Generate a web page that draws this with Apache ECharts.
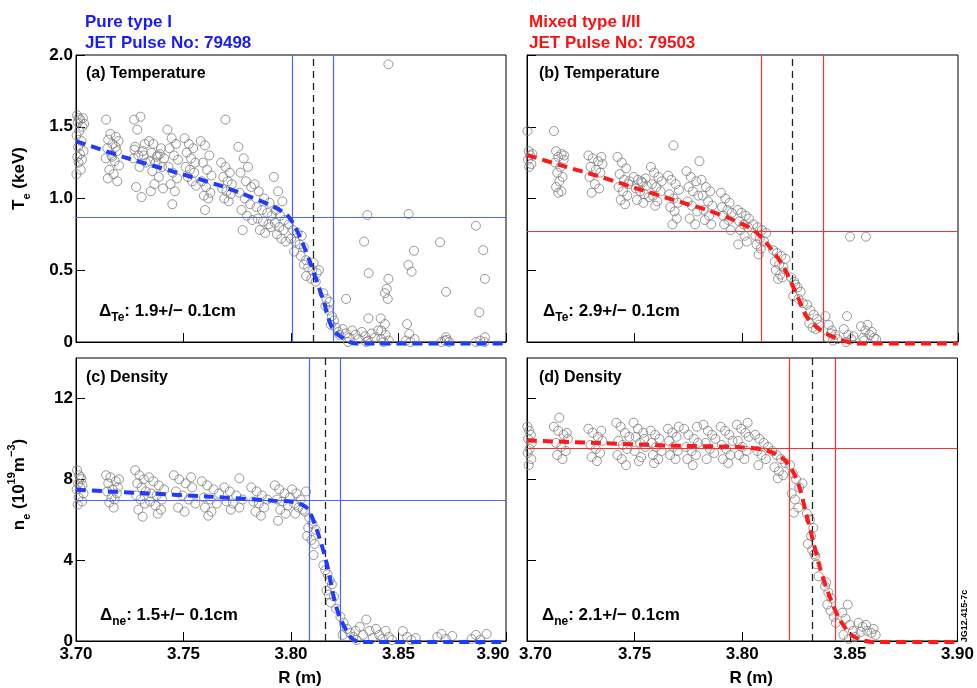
<!DOCTYPE html>
<html><head><meta charset="utf-8">
<script src="https://cdn.jsdelivr.net/npm/echarts@6/dist/echarts.min.js"></script>
<style>html,body{margin:0;padding:0;background:#fff}#c{width:977px;height:688px}</style>
</head><body><div id="c"></div>
<script>
// ---------- DATA ----------
const xTicks = [3.70, 3.75, 3.80, 3.85, 3.90];
const teTicks = [0, 0.5, 1.0, 1.5, 2.0];
const neTicks = [0, 4, 8, 12];

// (a) Te, pulse 79498  [R (m), Te (keV)]
const teA = [
[3.7005,1.58],[3.7012,1.56],[3.7020,1.55],[3.7008,1.53],[3.7030,1.50],[3.7015,1.47],[3.7003,1.44],[3.7025,1.40],[3.7010,1.36],[3.7035,1.33],[3.7018,1.31],[3.7006,1.29],[3.7028,1.27],[3.7012,1.25],[3.7022,1.20],[3.7002,1.17],[3.7032,1.56],[3.7038,1.52],
[3.7140,1.55],[3.7160,1.45],[3.7185,1.43],[3.7150,1.41],[3.7198,1.40],[3.7170,1.38],[3.7145,1.35],[3.7190,1.33],[3.7165,1.30],[3.7138,1.28],[3.7180,1.26],[3.7200,1.23],[3.7155,1.20],[3.7175,1.17],[3.7148,1.14],[3.7192,1.12],[3.7168,1.29],[3.7185,1.36],
[3.7270,1.55],[3.7300,1.57],[3.7285,1.48],[3.7320,1.38],[3.7275,1.36],[3.7310,1.33],[3.7290,1.30],[3.7268,1.28],[3.7325,1.25],[3.7295,1.22],[3.7280,1.08],[3.7305,1.01],[3.7315,1.30],[3.7272,1.34],
[3.7340,1.40],[3.7360,1.38],[3.7395,1.35],[3.7350,1.32],[3.7380,1.30],[3.7410,1.28],[3.7345,1.26],[3.7370,1.25],[3.7400,1.22],[3.7355,1.19],[3.7385,1.15],[3.7365,1.10],[3.7405,1.07],[3.7348,1.05],[3.7375,1.29],[3.7390,1.31],
[3.7425,1.48],[3.7445,1.42],[3.7465,1.38],[3.7435,1.35],[3.7455,1.30],[3.7475,1.27],[3.7430,1.22],[3.7450,1.18],[3.7470,1.14],[3.7440,1.10],[3.7460,1.05],[3.7448,0.96],
[3.7505,1.42],[3.7525,1.38],[3.7545,1.35],[3.7515,1.32],[3.7535,1.28],[3.7555,1.25],[3.7510,1.22],[3.7530,1.20],[3.7550,1.18],[3.7520,1.15],[3.7540,1.12],[3.7558,1.09],
[3.7580,1.40],[3.7600,1.37],[3.7620,1.30],[3.7590,1.25],[3.7610,1.20],[3.7630,1.16],[3.7585,1.12],[3.7605,1.08],[3.7625,1.04],[3.7595,1.02],[3.7615,1.00],[3.7600,0.92],
[3.7695,1.55],[3.7675,1.25],[3.7695,1.22],[3.7715,1.18],[3.7685,1.15],[3.7705,1.12],[3.7725,1.10],[3.7680,1.07],[3.7700,1.05],[3.7720,1.03],[3.7690,1.00],[3.7710,0.98],
[3.7755,1.36],[3.7780,1.28],[3.7800,1.22],[3.7765,1.18],[3.7790,1.12],[3.7815,1.08],[3.7760,1.04],[3.7785,1.00],[3.7810,0.96],[3.7770,0.92],[3.7795,0.88],[3.7820,0.85],[3.7775,0.78],
[3.7830,1.10],[3.7850,1.05],[3.7875,1.00],[3.7900,0.97],[3.7840,0.94],[3.7865,0.92],[3.7890,0.90],[3.7910,0.88],[3.7845,0.86],[3.7870,0.84],[3.7895,0.82],[3.7855,0.78],[3.7880,0.76],[3.7905,0.80],
[3.7920,1.15],[3.7940,1.05],[3.7960,0.98],[3.7930,0.92],[3.7950,0.88],[3.7970,0.85],[3.7925,0.83],[3.7945,0.80],[3.7965,0.78],[3.7935,0.75],[3.7955,0.72],[3.7975,0.70],
[3.7990,0.82],[3.8010,0.78],[3.8030,0.76],[3.8050,0.74],[3.8000,0.72],[3.8020,0.70],[3.8040,0.68],[3.8060,0.66],[3.8015,0.63],[3.8045,0.60],[3.8070,0.57],
[3.8060,0.54],[3.8080,0.52],[3.8100,0.50],[3.8120,0.48],[3.8070,0.46],[3.8095,0.44],[3.8115,0.42],[3.8130,0.50],[3.8105,0.55],
[3.8150,0.34],[3.8165,0.30],[3.8180,0.28],[3.8160,0.25],[3.8175,0.22],[3.8190,0.18],[3.8200,0.15],[3.8210,0.10],[3.8220,0.07],[3.8185,0.12],[3.8225,0.05],
[3.8240,0.09],[3.8255,0.06],[3.8270,0.03],[3.8285,0.08],[3.8300,0.05],[3.8315,0.02],[3.8330,0.07],[3.8345,0.04],[3.8360,0.01],[3.8375,0.06],[3.8390,0.03],[3.8405,0.08],[3.8420,0.02],[3.8440,0.05],[3.8455,0.01],[3.8265,0.00],[3.8350,0.00],[3.8430,0.00],
[3.8453,1.935],[3.8355,0.885],[3.8547,0.892],[3.8860,0.81],[3.8340,0.70],[3.8693,0.695],[3.8572,0.636],[3.8894,0.64],[3.8546,0.537],[3.8561,0.49],[3.8361,0.48],[3.8453,0.44],[3.8902,0.44],[3.8445,0.37],[3.8437,0.34],[3.8450,0.30],[3.8721,0.35],[3.8256,0.30],[3.8876,0.207],[3.8360,0.165],[3.8417,0.165],[3.8437,0.125],[3.8540,0.125],[3.8420,0.08],[3.8550,0.056],[3.8902,0.033],[3.8721,0.033],[3.8725,0.015],
[3.8535,0.01],[3.8555,0.00],[3.8575,0.02],[3.8700,0.00],[3.8715,0.01],[3.8735,0.00],[3.8860,0.00],[3.8880,0.01],[3.8900,0.00]
];

// (b) Te, pulse 79503
const teB = [
[3.7002,1.47],[3.7008,1.33],[3.7015,1.30],[3.7005,1.27],[3.7020,1.24],[3.7010,1.22],[3.7025,1.31],
[3.7125,1.47],[3.7135,1.33],[3.7160,1.31],[3.7145,1.29],[3.7170,1.27],[3.7130,1.25],[3.7155,1.22],[3.7140,1.18],[3.7165,1.15],[3.7150,1.12],[3.7135,1.08],[3.7160,1.05],[3.7145,1.04],[3.7172,1.30],
[3.7285,1.30],[3.7305,1.28],[3.7330,1.26],[3.7350,1.24],[3.7295,1.22],[3.7320,1.20],[3.7340,1.18],[3.7290,1.15],[3.7315,1.10],[3.7335,1.07],[3.7300,1.04],[3.7345,1.29],
[3.7420,1.29],[3.7440,1.25],[3.7460,1.21],[3.7430,1.17],[3.7450,1.13],[3.7470,1.10],[3.7425,1.08],[3.7445,1.05],[3.7465,1.02],[3.7435,0.99],[3.7455,0.96],[3.7475,1.12],
[3.7495,1.15],[3.7515,1.13],[3.7535,1.11],[3.7555,1.09],[3.7505,1.07],[3.7525,1.05],[3.7545,1.03],[3.7565,1.01],[3.7510,0.99],[3.7540,0.97],[3.7530,1.12],[3.7550,1.14],
[3.7575,1.22],[3.7590,1.18],[3.7610,1.15],[3.7625,1.12],[3.7580,1.10],[3.7600,1.08],[3.7620,1.05],[3.7585,1.02],[3.7605,0.98],[3.7595,0.95],
[3.7680,1.37],[3.7655,1.16],[3.7670,1.13],[3.7690,1.10],[3.7705,1.06],[3.7660,1.03],[3.7680,1.00],[3.7700,0.97],[3.7665,0.94],[3.7685,0.91],[3.7695,0.86],[3.7675,0.82],
[3.7740,1.19],[3.7760,1.15],[3.7785,1.12],[3.7750,1.08],[3.7770,1.05],[3.7795,1.02],[3.7745,0.98],[3.7765,0.95],[3.7790,0.91],[3.7755,0.86],[3.7780,0.82],[3.7800,1.26],
[3.7810,1.13],[3.7830,1.08],[3.7850,1.05],[3.7815,1.02],[3.7840,0.98],[3.7860,0.95],[3.7820,0.92],[3.7845,0.88],[3.7825,0.85],[3.7855,0.82],
[3.7900,1.04],[3.7920,1.00],[3.7940,0.97],[3.7905,0.94],[3.7930,0.92],[3.7950,0.90],[3.7910,0.88],[3.7935,0.85],[3.7915,0.82],[3.7945,0.78],
[3.7978,0.92],[3.7995,0.90],[3.8015,0.88],[3.8030,0.86],[3.7985,0.84],[3.8005,0.82],[3.8025,0.80],[3.7990,0.78],[3.8010,0.74],[3.8020,0.70],[3.7980,0.68],
[3.8050,0.82],[3.8070,0.80],[3.8090,0.78],[3.8110,0.76],[3.8060,0.74],[3.8080,0.72],[3.8100,0.70],[3.8065,0.68],[3.8085,0.65],[3.8075,0.61],
[3.8142,0.64],[3.8160,0.62],[3.8180,0.60],[3.8200,0.58],[3.8150,0.56],[3.8170,0.54],[3.8190,0.52],[3.8155,0.50],[3.8175,0.47],[3.8165,0.44],[3.8185,0.45],
[3.8225,0.45],[3.8240,0.42],[3.8255,0.38],[3.8270,0.35],[3.8235,0.32],[3.8260,0.30],[3.8280,0.27],[3.8245,0.40],
[3.8300,0.26],[3.8315,0.22],[3.8330,0.19],[3.8345,0.16],[3.8310,0.13],[3.8325,0.10],[3.8340,0.09],[3.8355,0.12],
[3.8385,0.18],[3.8400,0.12],[3.8415,0.08],[3.8430,0.05],[3.8395,0.03],[3.8420,0.01],[3.8440,0.02],[3.8410,0.06],
[3.8485,0.18],[3.8470,0.09],[3.8490,0.05],[3.8505,0.02],[3.8480,0.00],[3.8515,0.04],
[3.8550,0.11],[3.8570,0.08],[3.8590,0.05],[3.8610,0.03],[3.8560,0.03],[3.8580,0.12],[3.8600,0.07],[3.8620,0.02],[3.8565,0.01],
[3.8499,0.734],[3.8573,0.734]
];

// (c) ne, pulse 79498  [R (m), ne (1e19 m^-3)]
const neC = [
[3.7005,8.45],[3.7015,8.2],[3.7025,8.0],[3.7010,7.8],[3.7030,7.7],[3.7020,7.6],[3.7003,7.5],[3.7035,7.3],[3.7012,7.1],[3.7028,6.9],[3.7008,6.75],[3.7022,8.1],
[3.7140,8.2],[3.7160,8.1],[3.7185,7.9],[3.7150,7.8],[3.7195,7.6],[3.7170,7.5],[3.7145,7.4],[3.7190,7.3],[3.7165,7.1],[3.7180,7.0],[3.7155,6.85],[3.7175,6.6],[3.7200,8.0],
[3.7275,8.45],[3.7295,8.2],[3.7315,8.0],[3.7285,7.8],[3.7305,7.6],[3.7325,7.4],[3.7280,7.2],[3.7300,7.0],[3.7320,6.8],[3.7290,6.5],[3.7310,6.15],
[3.7340,8.1],[3.7360,7.9],[3.7385,7.7],[3.7410,7.5],[3.7350,7.3],[3.7375,7.2],[3.7400,7.0],[3.7345,6.9],[3.7370,6.7],[3.7395,6.5],[3.7380,6.3],
[3.7455,8.2],[3.7480,8.0],[3.7510,7.8],[3.7540,7.6],[3.7465,7.4],[3.7495,7.2],[3.7525,7.0],[3.7555,6.8],[3.7475,6.6],[3.7505,6.4],[3.7535,8.1],
[3.7585,7.9],[3.7610,7.7],[3.7640,7.5],[3.7665,7.3],[3.7595,7.1],[3.7625,7.0],[3.7655,6.8],[3.7600,6.6],[3.7630,6.4],[3.7615,6.2],
[3.7760,8.05],[3.7690,7.6],[3.7715,7.4],[3.7745,7.2],[3.7775,7.0],[3.7700,6.9],[3.7730,6.8],[3.7760,6.6],[3.7720,6.5],
[3.7815,7.6],[3.7840,7.4],[3.7865,7.2],[3.7890,7.0],[3.7825,6.9],[3.7850,6.8],[3.7875,6.6],[3.7835,6.4],[3.7860,6.2],
[3.7925,7.7],[3.7945,7.5],[3.7970,7.3],[3.7995,7.1],[3.7935,7.0],[3.7960,6.9],[3.7985,6.7],[3.7950,6.5],[3.7975,6.3],[3.7940,5.95],
[3.8005,7.5],[3.8025,7.3],[3.8045,7.0],[3.8015,6.8],[3.8035,6.6],[3.8055,6.5],[3.8020,6.3],
[3.8070,7.4],[3.8065,6.4],[3.8085,6.1],[3.8100,5.8],[3.8115,5.5],[3.8075,5.2],[3.8095,5.0],[3.8110,4.8],[3.8105,4.25],[3.8080,5.6],
[3.8150,3.75],[3.8160,3.5],[3.8170,3.3],[3.8180,3.0],[3.8190,2.8],[3.8165,2.5],[3.8200,2.2],[3.8185,1.9],[3.8210,1.6],[3.8175,2.3],
[3.8230,1.2],[3.8245,0.9],[3.8260,0.6],[3.8275,0.4],[3.8290,0.2],[3.8305,0.05],[3.8320,0.7],[3.8335,0.3],[3.8350,1.06],[3.8365,0.5],[3.8380,0.15],[3.8395,0.6],[3.8410,0.3],[3.8425,0.1],[3.8440,0.5],[3.8455,0.2],[3.8470,0.05],[3.8240,0.3],[3.8300,0.5],
[3.8520,0.49],[3.8540,0.2],[3.8560,0.05],[3.8580,0.15],[3.8680,0.2],[3.8700,0.35],[3.8720,0.1],[3.8750,0.25],[3.8840,0.1],[3.8860,0.3],[3.8880,0.05],[3.8910,0.35]
];

// (d) ne, pulse 79503
const neD = [
[3.7002,10.6],[3.7010,10.4],[3.7018,10.2],[3.7005,10.0],[3.7022,9.8],[3.7012,9.5],[3.7003,9.3],[3.7020,9.0],[3.7008,8.7],
[3.7150,11.05],[3.7125,10.6],[3.7145,10.4],[3.7170,10.2],[3.7190,10.0],[3.7135,9.8],[3.7160,9.6],[3.7180,9.4],[3.7140,9.2],[3.7165,9.0],[3.7185,10.3],
[3.7285,10.5],[3.7305,10.3],[3.7330,10.1],[3.7350,9.9],[3.7295,9.7],[3.7320,9.5],[3.7340,9.3],[3.7300,9.1],[3.7325,8.9],[3.7345,10.4],
[3.7415,10.8],[3.7435,10.6],[3.7455,10.3],[3.7475,10.1],[3.7425,9.9],[3.7445,9.7],[3.7465,9.5],[3.7420,9.2],[3.7440,9.0],[3.7460,8.7],
[3.7495,10.8],[3.7515,10.5],[3.7540,10.3],[3.7505,10.1],[3.7525,9.8],[3.7550,9.6],[3.7500,9.4],[3.7530,9.1],[3.7520,8.9],[3.7545,10.0],
[3.7575,10.4],[3.7595,10.2],[3.7615,10.0],[3.7580,9.8],[3.7600,9.6],[3.7625,9.4],[3.7585,9.2],[3.7610,9.0],[3.7590,8.8],
[3.7655,10.5],[3.7675,10.3],[3.7695,10.1],[3.7660,9.9],[3.7680,9.6],[3.7700,9.4],[3.7665,9.2],[3.7690,9.0],[3.7705,10.6],
[3.7730,10.5],[3.7750,10.2],[3.7775,10.0],[3.7795,9.8],[3.7740,9.6],[3.7765,9.4],[3.7785,9.2],[3.7745,9.0],[3.7770,8.7],[3.7790,10.6],
[3.7820,10.7],[3.7840,10.4],[3.7860,10.2],[3.7875,10.0],[3.7830,9.8],[3.7850,9.5],[3.7870,9.3],[3.7835,9.0],
[3.7900,10.6],[3.7920,10.4],[3.7940,10.2],[3.7955,9.9],[3.7905,9.7],[3.7925,9.5],[3.7945,9.2],[3.7910,9.0],[3.7935,8.8],
[3.7975,10.7],[3.7995,10.5],[3.8015,10.3],[3.8030,10.1],[3.7980,9.9],[3.8000,9.6],[3.8020,9.4],[3.7985,9.2],[3.8010,9.0],[3.8025,10.8],
[3.8060,10.2],[3.8080,10.0],[3.8100,9.8],[3.8120,9.6],[3.8070,9.4],[3.8090,9.2],[3.8110,9.0],[3.8075,8.7],
[3.8140,9.4],[3.8160,9.2],[3.8180,9.0],[3.8200,8.8],[3.8150,8.6],[3.8170,8.4],[3.8190,8.2],[3.8165,8.05],
[3.8222,8.7],[3.8235,8.3],[3.8250,8.0],[3.8265,7.6],[3.8230,7.3],[3.8245,7.0],[3.8260,6.6],[3.8240,6.35],[3.8280,7.8],
[3.8300,6.3],[3.8315,6.0],[3.8330,5.6],[3.8320,5.2],[3.8305,4.8],[3.8325,4.5],[3.8335,4.3],[3.8345,3.8],[3.8355,3.2],[3.8340,4.2],
[3.8385,2.7],[3.8400,2.4],[3.8415,2.1],[3.8395,1.8],[3.8410,1.5],[3.8425,1.2],[3.8435,0.9],[3.8390,2.9],
[3.8490,1.8],[3.8465,1.4],[3.8480,1.1],[3.8500,0.8],[3.8515,0.5],[3.8470,0.3],[3.8495,0.1],[3.8525,0.2],
[3.8540,0.9],[3.8560,0.7],[3.8580,0.5],[3.8600,0.4],[3.8620,0.3],[3.8550,0.45],[3.8575,0.8],[3.8610,0.6]
];

// fitted profiles
const fitA = [[3.700,1.40],[3.722,1.29],[3.7453,1.187],[3.7685,1.082],[3.7918,0.943],[3.7995,0.862],[3.8073,0.618],[3.815,0.293],[3.8197,0.084],[3.8274,0.0],[3.83,-0.01],[3.90,-0.01]];
const fitB = [[3.700,1.303],[3.7153,1.233],[3.7339,1.152],[3.7493,1.078],[3.7679,0.99],[3.7834,0.92],[3.7958,0.85],[3.805,0.78],[3.8112,0.688],[3.819,0.525],[3.8259,0.305],[3.8298,0.176],[3.836,0.084],[3.8437,0.026],[3.853,-0.01],[3.90,-0.01]];
const fitC = [[3.700,7.48],[3.7298,7.32],[3.7608,7.15],[3.7918,6.94],[3.801,6.88],[3.8073,6.59],[3.812,5.5],[3.8166,3.85],[3.8213,1.6],[3.8274,0.24],[3.832,-0.05],[3.90,-0.05]];
const fitD = [[3.700,9.92],[3.7339,9.79],[3.7648,9.67],[3.7958,9.6],[3.8112,9.43],[3.819,9.02],[3.8236,8.37],[3.8267,7.56],[3.8298,6.26],[3.8329,4.96],[3.836,3.66],[3.8406,2.2],[3.8453,1.06],[3.8515,0.24],[3.8608,-0.05],[3.90,-0.05]];

// pedestal markers: [inner edge, outer edge], centre (dashed), top value
const pedA = [3.8006, 3.8197], midA = 3.8102, topA = 0.869;
const pedB = [3.8086, 3.8374], midB = 3.8230, topB = 0.769;
const pedC = [3.8085, 3.8231], midC = 3.8158, topC = 6.96;
const pedD = [3.8217, 3.8432], midD = 3.8324, topD = 9.55;

// ---------- CHART ----------
const F = '"Liberation Sans", Arial, Helvetica, sans-serif';
const BLUE = '#1f3cff', BLUE_L = '#4a66ff', RED = '#ff1a1a', RED_L = '#ff3030';
const chart = echarts.init(document.getElementById('c'), null, {renderer: 'canvas'});

const grids = [
  {left: 76, top: 55, width: 430, height: 287},
  {left: 527, top: 55, width: 431, height: 287},
  {left: 76, top: 358, width: 430, height: 287},
  {left: 527, top: 358, width: 431, height: 287}
].map(g => Object.assign(g, {show: true, borderColor: '#000', borderWidth: 1, backgroundColor: 'transparent'}));

const lblStyle = {fontFamily: F, fontWeight: 'bold', fontSize: 17, color: '#000'};

function xAxis(i) {
  const showL = i >= 2;
  return {
    type: 'value', gridIndex: i, min: 3.70, max: 3.90, interval: 0.05,
    axisLine: {show: true, onZero: false, lineStyle: {color: '#000', width: 1}},
    axisTick: {show: true, inside: true, length: 9, lineStyle: {color: '#000', width: 1}},
    splitLine: {show: false},
    axisLabel: {
      show: showL, margin: 5,
      formatter: function (v) {
        const s = v.toFixed(2);
        if (i === 2 && Math.abs(v - 3.9) < 1e-6) return '{r|' + s + '}';
        if (i === 3 && Math.abs(v - 3.7) < 1e-6) return '{l|' + s + '}';
        return '{n|' + s + '}';
      },
      rich: {
        n: lblStyle,
        r: Object.assign({}, lblStyle, {padding: [0, 26, 0, 0]}),
        l: Object.assign({}, lblStyle, {padding: [0, 0, 0, 17]})
      }
    },
    name: showL ? 'R (m)' : '', nameLocation: 'middle', nameGap: 29,
    nameTextStyle: Object.assign({}, lblStyle, {padding: [0, 0, 0, 18]})
  };
}

const subRich = {
  b: {fontFamily: F, fontWeight: 'bold', fontSize: 17, color: '#000', lineHeight: 26, verticalAlign: 'middle'},
  s: {fontFamily: F, fontWeight: 'bold', fontSize: 11, color: '#000', lineHeight: 11, verticalAlign: 'bottom'},
  p: {fontFamily: F, fontWeight: 'bold', fontSize: 11, color: '#000', lineHeight: 11, verticalAlign: 'top'}
};

function yAxis(i) {
  const isTe = i < 2, showL = (i % 2 === 0);
  const base = {
    type: 'value', gridIndex: i, min: 0, max: isTe ? 2.0 : 14,
    axisLine: {show: true, onZero: false, lineStyle: {color: '#000', width: 1}},
    splitLine: {show: false},
    nameLocation: 'middle', nameGap: 44, nameRotate: 90,
    name: showL ? (isTe ? '{b|T}{s|e}{b| (keV)}' : '{b|n}{s|e}{b| (10}{p|19}{b|m}{p|−3}{b|)}') : '',
    nameTextStyle: {rich: subRich, padding: isTe ? [0, 0, 0, 40] : [0, 0, 0, 30]}
  };
  if (isTe) {
    base.interval = 0.5;
    base.axisTick = {show: true, inside: true, length: 9, lineStyle: {color: '#000', width: 1}};
    base.axisLabel = Object.assign({show: showL, margin: 3, formatter: v => v === 0 ? '0' : v.toFixed(1)}, lblStyle);
  } else {
    base.axisTick = {show: true, inside: true, length: 9, customValues: neTicks, lineStyle: {color: '#000', width: 1}};
    base.axisLabel = Object.assign({show: showL, margin: 3, customValues: neTicks, formatter: v => String(v)}, lblStyle);
  }
  return base;
}

function scatter(i, data) {
  return {
    type: 'scatter', xAxisIndex: i, yAxisIndex: i, data: data, symbol: 'circle', symbolSize: 9,
    silent: true, animation: false,
    itemStyle: {color: 'rgba(0,0,0,0)', borderColor: '#7f7f7f', borderWidth: 1}
  };
}

function fit(i, data, col, colL, ped, mid, top) {
  return {
    type: 'line', xAxisIndex: i, yAxisIndex: i, data: data, showSymbol: false, smooth: 0.3,
    silent: true, animation: false, clip: false, z: 5,
    lineStyle: {color: col, width: 4, type: [10, 6]},
    markLine: {
      silent: true, animation: false, precision: 5, symbol: ['none', 'none'], label: {show: false},
      lineStyle: {color: colL, width: 1.2, type: 'solid'},
      data: [
        {xAxis: ped[0]}, {xAxis: ped[1]}, {yAxis: top},
        {xAxis: mid, lineStyle: {color: '#222', width: 1.3, type: [7, 5]}}
      ]
    }
  };
}

const deltaRich = {
  m: {fontFamily: F, fontWeight: 'bold', fontSize: 17, color: '#000', lineHeight: 26, verticalAlign: 'middle'},
  s: {fontFamily: F, fontWeight: 'bold', fontSize: 12, color: '#000', lineHeight: 12, verticalAlign: 'bottom'}
};

function txt(x, y, text, color, size, weight) {
  return {type: 'text', x: x, y: y, silent: true,
    style: {text: text, fill: color, font: (weight || 'bold') + ' ' + size + 'px ' + F, textVerticalAlign: 'middle', textAlign: 'left'}};
}
function rtxt(x, y, text) {
  return {type: 'text', x: x, y: y, silent: true,
    style: {text: text, rich: deltaRich, textVerticalAlign: 'middle', textAlign: 'left'}};
}

const option = {
  animation: false,
  backgroundColor: '#fff',
  grid: grids,
  xAxis: [0, 1, 2, 3].map(xAxis),
  yAxis: [0, 1, 2, 3].map(yAxis),
  series: [
    scatter(0, teA), fit(0, fitA, BLUE, BLUE_L, pedA, midA, topA),
    scatter(1, teB), fit(1, fitB, RED, RED_L, pedB, midB, topB),
    scatter(2, neC), fit(2, fitC, BLUE, BLUE_L, pedC, midC, topC),
    scatter(3, neD), fit(3, fitD, RED, RED_L, pedD, midD, topD)
  ],
  graphic: [
    txt(85, 22, 'Pure type I', '#1a1aff', 17),
    txt(85, 43, 'JET Pulse No: 79498', '#1a1aff', 17),
    txt(529, 22, 'Mixed type I/II', '#ff1010', 17),
    txt(529, 43, 'JET Pulse No: 79503', '#ff1010', 17),
    txt(86, 74, '(a) Temperature', '#000', 16),
    txt(539, 74, '(b) Temperature', '#000', 16),
    txt(86, 378, '(c) Density', '#000', 16),
    txt(539, 378, '(d) Density', '#000', 16),
    rtxt(99, 311, '{m|Δ}{s|Te}{m|: 1.9+/− 0.1cm}'),
    rtxt(543, 311, '{m|Δ}{s|Te}{m|: 2.9+/− 0.1cm}'),
    rtxt(100, 615, '{m|Δ}{s|ne}{m|: 1.5+/− 0.1cm}'),
    rtxt(542, 615, '{m|Δ}{s|ne}{m|: 2.1+/− 0.1cm}'),
    {type: 'text', x: 965, y: 616, rotation: Math.PI / 2, silent: true,
     style: {text: 'JG12.415-7c', fill: '#000', font: 'bold 9px ' + F, textAlign: 'center', textVerticalAlign: 'middle'}}
  ]
};
chart.setOption(option);
</script></body></html>
